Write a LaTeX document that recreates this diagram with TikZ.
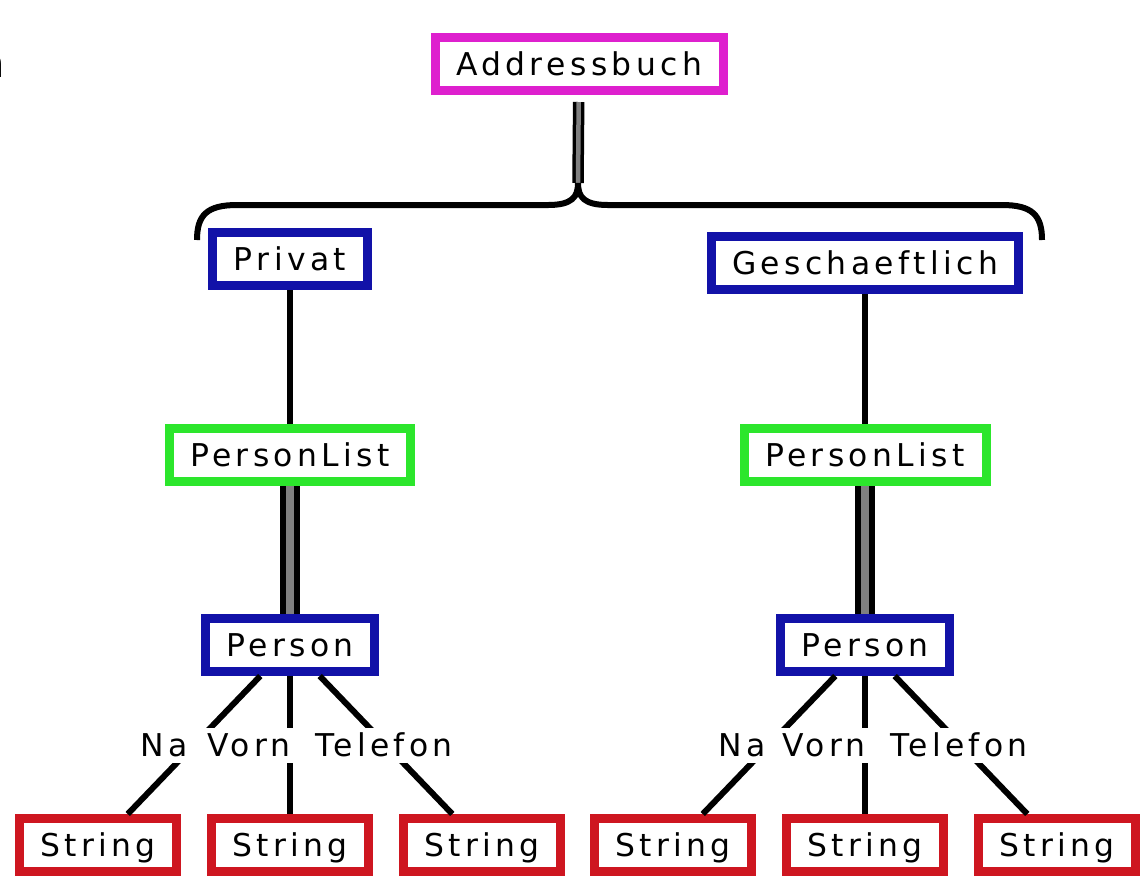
\documentclass[tikz,border=0pt]{standalone}
\usepackage{fontspec}
\newfontfamily\treefont[LetterSpace=14]{DejaVu Sans}
\newfontfamily\plainfont{DejaVu Sans}
\usetikzlibrary{positioning}
\definecolor{rootpink}{RGB}{222,32,206}
\definecolor{catblue}{RGB}{18,18,168}
\definecolor{listgreen}{RGB}{44,230,44}
\definecolor{leafred}{RGB}{206,22,32}

\begin{document}
\begin{tikzpicture}[x=0.5pt,y=-0.5pt,node distance=95pt,line width=3pt]
  \tikzstyle{box}=[draw,line width=4.5pt,fill=white,
                   font=\treefont\fontsize{15.7}{18}\selectfont,
                   inner xsep=10.5pt,minimum height=26.5pt,
                   text height=11.5pt,text depth=0pt]
  \tikzstyle{lbl}=[fill=white,font=\treefont\fontsize{15.7}{18}\selectfont,
                   inner xsep=6pt,inner ysep=3pt,
                   text height=11.5pt,text depth=0pt]
  \tikzstyle{conn}=[draw,line width=3pt]
  \tikzstyle{dbl}=[draw,line width=3pt,double=gray,double distance=4pt]

  \useasboundingbox (0,0) rectangle (1144,880);

  \node[anchor=base east,inner sep=0pt,
        font=\plainfont\fontsize{20}{24}\selectfont] (cut) at (8,77) {n};

  % root and the two books
  \node[box,draw=rootpink] (addr)  at (579,64)  {Addressbuch};
  \node[box,draw=catblue]  (priv)  at (290,259) {Privat};
  \node[box,draw=catblue]  (gesch) at (865,263) {Geschaeftlich};

  % left branch
  \node[box,draw=listgreen] (pl1) [below of=priv,node distance=98pt] {PersonList};
  \node[box,draw=catblue]   (p1)  [below of=pl1] {Person};
  \node[box,draw=leafred]   (s2)  [below of=p1,node distance=100pt] {String};
  \node[box,draw=leafred]   (s1)  [left of=s2,node distance=96pt] {String};
  \node[box,draw=leafred]   (s3)  [right of=s2,node distance=96pt] {String};

  % right branch
  \node[box,draw=listgreen] (pl2) [below of=gesch,node distance=96pt] {PersonList};
  \node[box,draw=catblue]   (p2)  [below of=pl2] {Person};
  \node[box,draw=leafred]   (s5)  [below of=p2,node distance=100pt] {String};
  \node[box,draw=leafred]   (s4)  [left of=s5,node distance=96pt] {String};
  \node[box,draw=leafred]   (s6)  [right of=s5,node distance=96pt] {String};

  % brace
  \coordinate (tip) at (578,183);
  \coordinate (bl)  at (197,240);
  \coordinate (br)  at (1042,240);
  \draw[line width=1.75pt,double=gray,double distance=2.25pt,shorten <=3.5pt]
    (addr) -- (tip);
  \draw (bl) .. controls (197,215) and (207,205) .. (237,205) -- (548,205)
        .. controls (572,205) and (578,197) .. (tip)
        .. controls (578,197) and (584,205) .. (608,205) -- (1002,205)
        .. controls (1032,205) and (1042,215) .. (br);

  \path (priv) edge[conn] (pl1)
        (pl1)  edge[dbl]  (p1)
        (p1)   edge[conn] (s1)
               edge[conn] (s2)
               edge[conn] (s3)
        (gesch) edge[conn] (pl2)
        (pl2)  edge[dbl]  (p2)
        (p2)   edge[conn] (s4)
               edge[conn] (s5)
               edge[conn] (s6);

  % field names
  \node[lbl] (na1)  at (164,745) {Na};
  \node[lbl] (vo1)  at (249,745) {Vorn};
  \node[lbl] (te1)  at (384,745) {Telefon};
  \node[lbl] (na2)  at (742,745) {Na};
  \node[lbl] (vo2)  at (824,745) {Vorn};
  \node[lbl] (te2)  at (959,745) {Telefon};
\end{tikzpicture}
\end{document}
